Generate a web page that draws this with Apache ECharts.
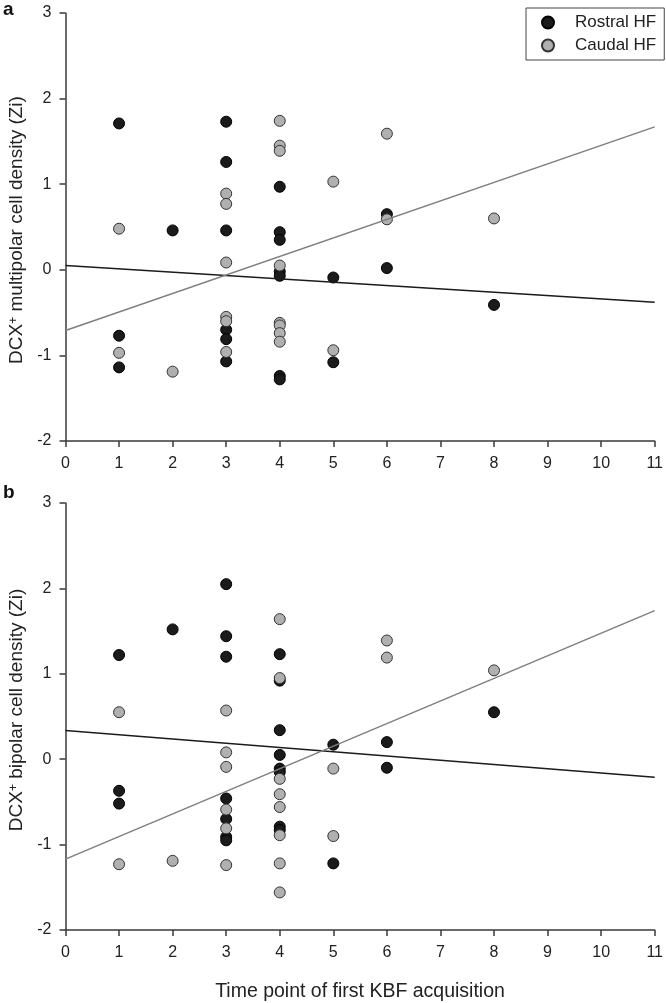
<!DOCTYPE html>
<html>
<head>
<meta charset="utf-8">
<script src="https://cdn.jsdelivr.net/npm/echarts@6/dist/echarts.min.js"></script>
<style>
html,body{margin:0;padding:0;background:#fff;}
#chart{width:666px;height:1003px;}
</style>
</head>
<body>
<div id="chart"></div>
<script>
// ---- Data ----
// Panel a: DCX+ multipolar cell density (Zi)
var rostralA = [
  [1, 1.71], [1, -0.77], [1, -1.14],
  [2, 0.46],
  [3, 1.73], [3, 1.26], [3, 0.46], [3, -0.70], [3, -0.81], [3, -1.07],
  [4, 0.97], [4, 0.44], [4, 0.35], [4, -0.02], [4, -0.07], [4, -1.24], [4, -1.28],
  [5, -0.09], [5, -1.08],
  [6, 0.65], [6, 0.02],
  [8, -0.41]
];
var caudalA = [
  [1, 0.48], [1, -0.97],
  [2, -1.19],
  [3, 0.89], [3, 0.77], [3, 0.085], [3, -0.55], [3, -0.60], [3, -0.96],
  [4, 1.74], [4, 1.45], [4, 1.39], [4, 0.05], [4, -0.62], [4, -0.65], [4, -0.74], [4, -0.84],
  [5, 1.03], [5, -0.94],
  [6, 1.59], [6, 0.59],
  [8, 0.60]
];
var rostralFitA = [[0, 0.05], [11, -0.38]];
var caudalFitA = [[0, -0.71], [11, 1.67]];

// Panel b: DCX+ bipolar cell density (Zi)
var rostralB = [
  [1, 1.22], [1, -0.37], [1, -0.52],
  [2, 1.52],
  [3, 2.05], [3, 1.44], [3, 1.20], [3, -0.46], [3, -0.70], [3, -0.91], [3, -0.95],
  [4, 1.23], [4, 0.92], [4, 0.34], [4, 0.05], [4, -0.11], [4, -0.15], [4, -0.79], [4, -0.83],
  [5, 0.17], [5, -1.22],
  [6, 0.20], [6, -0.10],
  [8, 0.55]
];
var caudalB = [
  [1, 0.55], [1, -1.23],
  [2, -1.19],
  [3, 0.57], [3, 0.08], [3, -0.09], [3, -0.59], [3, -0.81], [3, -1.24],
  [4, 1.64], [4, 0.95], [4, -0.23], [4, -0.41], [4, -0.56], [4, -0.89], [4, -1.22], [4, -1.56],
  [5, -0.11], [5, -0.90],
  [6, 1.39], [6, 1.19],
  [8, 1.04]
];
var rostralFitB = [[0, 0.335], [11, -0.21]];
var caudalFitB = [[0, -1.17], [11, 1.74]];

var seriesNames = ['Rostral HF', 'Caudal HF'];
var xTitle = 'Time point of first KBF acquisition';
var yTitleA = 'DCX{sup|+} multipolar cell density (Zi)';
var yTitleB = 'DCX{sup|+} bipolar cell density (Zi)';
var panelLabels = ['a', 'b'];

// ---- Styles ----
var FONT = 'Liberation Sans, Arial, sans-serif';
var TXT = '#222';
var AX = '#3a3a3a';
var BLACK_FILL = '#1b1b1b';
var GRAY_FILL = '#b0b0b0';

function xAxisFor(gi) {
  return {
    gridIndex: gi, type: 'value', min: 0, max: 11, interval: 1,
    axisLine: {show: true, onZero: false, lineStyle: {color: AX, width: 1.5}},
    axisTick: {show: true, inside: false, length: 6, lineStyle: {color: AX, width: 1.5}},
    axisLabel: {color: TXT, fontSize: 16, fontFamily: FONT, margin: 15},
    splitLine: {show: false}
  };
}
function yAxisFor(gi) {
  return {
    gridIndex: gi, type: 'value', min: -2, max: 3, interval: 1,
    axisLine: {show: true, onZero: false, lineStyle: {color: AX, width: 1.5}},
    axisTick: {show: true, inside: false, length: 6, lineStyle: {color: AX, width: 1.5}},
    axisLabel: {color: TXT, fontSize: 16, fontFamily: FONT, margin: 14},
    splitLine: {show: false}
  };
}
function scatter(name, data, gi, black) {
  return {
    name: name, type: 'scatter', xAxisIndex: gi, yAxisIndex: gi,
    data: data, symbol: 'circle', symbolSize: 11, z: black ? 2 : 3,
    itemStyle: black
      ? {color: BLACK_FILL, borderColor: '#000', borderWidth: 1, opacity: 1}
      : {color: GRAY_FILL, borderColor: '#333', borderWidth: 1, opacity: 1},
    emphasis: {disabled: true}
  };
}
function fit(data, gi, black) {
  return {
    type: 'line', xAxisIndex: gi, yAxisIndex: gi, data: data,
    showSymbol: false, symbol: 'none', z: 4, silent: true,
    lineStyle: {color: black ? '#1b1b1b' : '#7f7f7f', width: 1.5}
  };
}

var chart = echarts.init(document.getElementById('chart'), null, {renderer: 'canvas'});
var supRich = {sup: {fontSize: 12, fontFamily: FONT, fill: TXT, verticalAlign: 'top'}};
var option = {
  backgroundColor: '#fff',
  animation: false,
  textStyle: {fontFamily: FONT},
  grid: [
    {left: 65.5, right: 7, top: 13, bottom: 562},
    {left: 65.5, right: 7, top: 503, bottom: 73}
  ],
  xAxis: [xAxisFor(0), xAxisFor(1)],
  yAxis: [yAxisFor(0), yAxisFor(1)],
  legend: {
    data: seriesNames, orient: 'vertical', left: 526, top: 8,
    borderColor: '#444', borderWidth: 1, borderRadius: 0,
    padding: [6, 8, 6, 15], itemGap: 6, itemWidth: 12, itemHeight: 12,
    icon: 'circle',
    textStyle: {color: TXT, fontSize: 17, fontFamily: FONT, padding: [0, 0, 0, 16]}
  },
  series: [
    scatter(seriesNames[0], rostralA, 0, true),
    scatter(seriesNames[1], caudalA, 0, false),
    fit(rostralFitA, 0, true),
    fit(caudalFitA, 0, false),
    scatter(seriesNames[0], rostralB, 1, true),
    scatter(seriesNames[1], caudalB, 1, false),
    fit(rostralFitB, 1, true),
    fit(caudalFitB, 1, false)
  ],
  graphic: [
    {type: 'text', left: 3, top: 0, style: {text: panelLabels[0], font: 'bold 19px ' + FONT, fill: '#111'}},
    {type: 'text', left: 3, top: 483, style: {text: panelLabels[1], font: 'bold 19px ' + FONT, fill: '#111'}},
    {type: 'text', x: 17, y: 230, rotation: Math.PI / 2,
     style: {text: yTitleA, fontSize: 19, fontFamily: FONT, fill: TXT, align: 'center', verticalAlign: 'middle', rich: supRich}},
    {type: 'text', x: 17, y: 710, rotation: Math.PI / 2,
     style: {text: yTitleB, fontSize: 19, fontFamily: FONT, fill: TXT, align: 'center', verticalAlign: 'middle', rich: supRich}},
    {type: 'text', x: 360, y: 992,
     style: {text: xTitle, fontSize: 19.5, fontFamily: FONT, fill: TXT, align: 'center', verticalAlign: 'middle'}}
  ]
};
chart.setOption(option);
</script>
</body>
</html>
